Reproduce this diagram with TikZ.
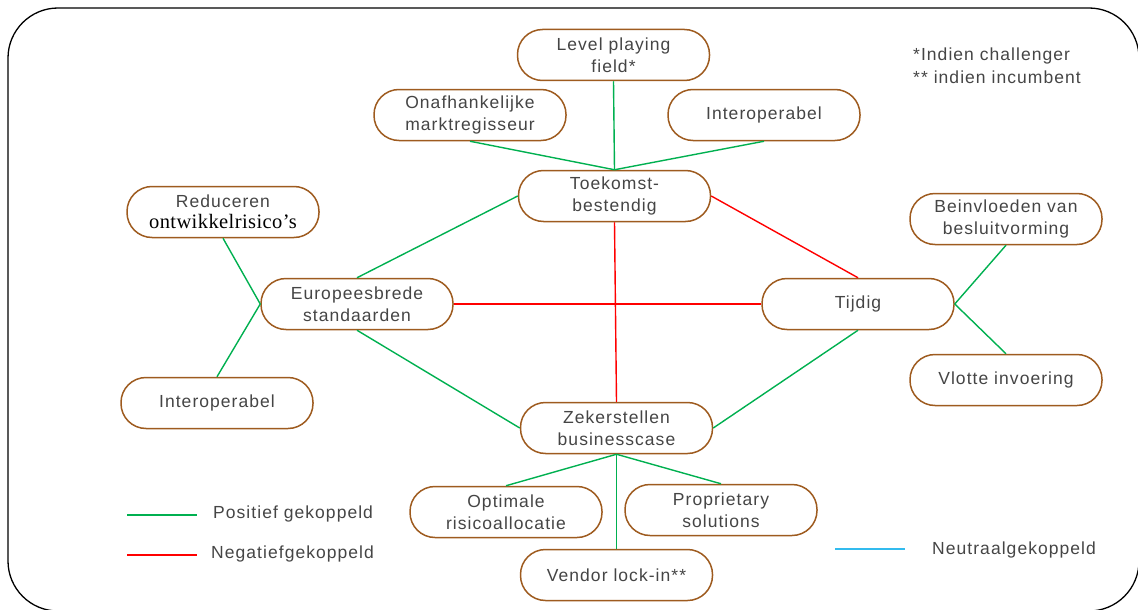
\documentclass[tikz,border=0pt]{standalone}
\usepackage{fontspec}
\setmainfont{Liberation Sans}[LetterSpace=6]
\newfontfamily\serifx{Liberation Serif}[LetterSpace=2]
\definecolor{boxbrown}{HTML}{9E5B1F}
\definecolor{posgreen}{HTML}{00B050}
\definecolor{negred}{HTML}{FF0000}
\definecolor{neublue}{HTML}{33BBEE}
\definecolor{txtgray}{HTML}{454545}
\tikzset{
  pill/.style={draw=boxbrown, line width=1.5pt, rounded corners=25pt, minimum width=192pt, minimum height=51pt, align=center, text=txtgray, font=\fontsize{17.5}{22}\selectfont, inner sep=0pt, fill=white},
  posline/.style={draw=posgreen, line width=1.4pt},
  negline/.style={draw=negred, line width=1.4pt},
  neuline/.style={draw=neublue, line width=1.6pt},
  lbl/.style={text=txtgray, font=\fontsize{17.5}{21}\selectfont, inner sep=0pt, anchor=west, align=left},
}
\begin{document}
\begin{tikzpicture}[x=1pt, y=-1pt]
\useasboundingbox (0,0) rectangle (1138,610);
\begin{scope}
\clip (0,0) rectangle (1138,610);
\draw[black, line width=1.3pt, rounded corners=50pt] (8,8) rectangle (1139,611);
\end{scope}
% nodes
\node[pill] (lpf) at (613.5,55) {Level playing\\field*};
\node[pill] (onaf) at (470,115) {Onafhankelijke\\marktregisseur};
\node[pill] (iotop) at (764,115) {Interoperabel};
\node[pill] (toek) at (614.5,196) {Toekomst-\\bestendig};
\node[pill] (red) at (223,212) {Reduceren\\[-1pt]{\serifx\fontsize{20.5}{22}\selectfont\color{black}ontwikkelrisico’s}};
\node[pill] (eur) at (357,304) {Europeesbrede\\standaarden};
\node[pill] (iol) at (217,403) {Interoperabel};
\node[pill] (tijd) at (858,304) {Tijdig};
\node[pill] (bein) at (1006,219) {Beinvloeden van\\besluitvorming};
\node[pill] (vlot) at (1006,380) {Vlotte invoering};
\node[pill] (zek) at (616.5,428) {Zekerstellen\\businesscase};
\node[pill] (opt) at (506,512) {Optimale\\risicoallocatie};
\node[pill] (prop) at (721,510) {Proprietary\\solutions};
\node[pill] (vend) at (616.5,575) {Vendor lock-in**};
% connectors
\draw[posline] (lpf.south) -- (toek.north);
\draw[posline] (onaf.south) -- (toek.north);
\draw[posline] (iotop.south) -- (toek.north);
\draw[posline] (toek.west) -- (eur.north);
\draw[negline] (toek.east) -- (tijd.north);
\draw[negline] (toek.south) -- (zek.north);
\draw[negline] (eur.east) -- (tijd.west);
\draw[posline] (eur.south) -- (zek.west);
\draw[posline] (tijd.south) -- (zek.east);
\draw[posline] (red.south) -- (eur.west);
\draw[posline] (iol.north) -- (eur.west);
\draw[posline] (tijd.east) -- (bein.south);
\draw[posline] (tijd.east) -- (vlot.north);
\draw[posline] (zek.south) -- (opt.north);
\draw[posline] (zek.south) -- (prop.north);
\draw[posline] (zek.south) -- (vend.north);
% notes
\node[lbl] (n1) at (913,56) {*Indien challenger};
\node[lbl] (n2) at (913,77) {** indien incumbent};
% legend
\coordinate (g1) at (127,515); \coordinate (g2) at (197,515);
\coordinate (r1) at (127,555); \coordinate (r2) at (197,555);
\coordinate (b1) at (835,549); \coordinate (b2) at (905,549);
\draw[posline] (g1) -- (g2);
\draw[negline] (r1) -- (r2);
\draw[neuline] (b1) -- (b2);
\node[lbl] (lg) at (213,514) {Positief gekoppeld};
\node[lbl] (lr) at (211,554) {Negatiefgekoppeld};
\node[lbl] (lb) at (932,550) {Neutraalgekoppeld};
\end{tikzpicture}
\end{document}
